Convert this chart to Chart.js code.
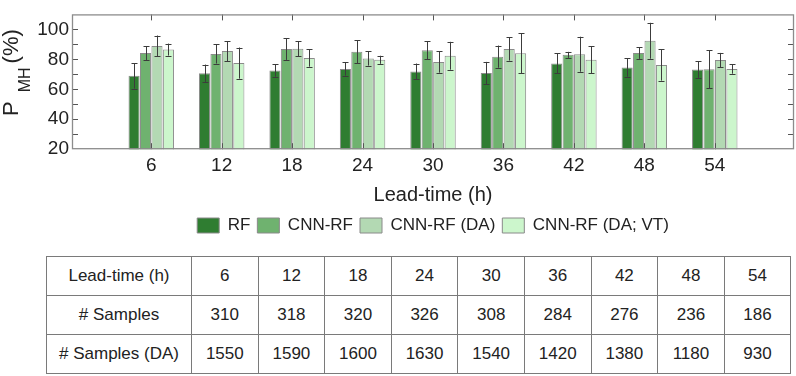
<!DOCTYPE html>
<html>
<head>
<meta charset="utf-8">
<script src="https://cdn.jsdelivr.net/npm/chart.js@4/dist/chart.umd.min.js"></script>
<style>
  html, body { margin: 0; padding: 0; background: #fff; }
  #wrap { position: relative; width: 796px; height: 376px; overflow: hidden; }
  #chartBox { position: absolute; left: 0; top: 0; width: 796px; height: 246px; }
  table { position: absolute; left: 46px; top: 256px; border-collapse: collapse; table-layout: fixed;
          font-family: "Liberation Sans", Arial, sans-serif; font-size: 17px; color: #222; }
  td { border: 1px solid #7a7a7a; height: 38px; padding: 0; text-align: center; vertical-align: middle; }
  td.head { width: 144px; }
  td.num { width: 65.6px; }
</style>
</head>
<body>
<div id="wrap">
  <div id="chartBox"><canvas id="c"></canvas></div>
  <table id="tbl"></table>
</div>
<script>
// ---- data ----
const leadTimes = [6, 12, 18, 24, 30, 36, 42, 48, 54];
const seriesNames = ['RF', 'CNN-RF', 'CNN-RF (DA)', 'CNN-RF (DA; VT)'];
const rfMean  = [69.0, 70.7, 72.6, 73.6, 71.9, 70.9, 77.3, 74.6, 73.2];
const rfErr   = [8.5, 5.8, 4.2, 4.5, 5.3, 7.4, 6.7, 6.2, 5.6];
const cnnMean = [84.2, 83.6, 86.9, 85.0, 86.1, 81.8, 83.0, 84.2, 73.4];
const cnnErr  = [4.7, 6.4, 7.3, 7.7, 6.1, 7.4, 2.0, 3.9, 12.7];
const daMean  = [88.9, 85.5, 87.1, 80.6, 78.3, 86.9, 83.4, 92.4, 79.5];
const daErr   = [7.0, 6.7, 4.9, 4.8, 7.2, 7.7, 11.7, 12.0, 4.8];
const vtMean  = [86.5, 77.5, 80.9, 79.7, 82.4, 84.0, 79.7, 76.2, 73.6];
const vtErr   = [4.0, 10.4, 5.8, 2.7, 9.3, 13.3, 9.0, 10.4, 3.2];
const yTickLabels = [20, 40, 60, 80, 100];
const yTickMarks  = [30, 40, 50, 60, 70, 80, 90, 100];
const tableHeader = 'Lead-time (h)';
const samplesLabel = '# Samples';
const samplesDALabel = '# Samples (DA)';
const samples   = [310, 318, 320, 326, 308, 284, 276, 236, 186];
const samplesDA = [1550, 1590, 1600, 1630, 1540, 1420, 1380, 1180, 930];

// ---- table ----
(function buildTable() {
  const rows = [[tableHeader, leadTimes], [samplesLabel, samples], [samplesDALabel, samplesDA]];
  const tbl = document.getElementById('tbl');
  rows.forEach(([label, vals]) => {
    const tr = document.createElement('tr');
    const th = document.createElement('td'); th.className = 'head'; th.textContent = label; tr.appendChild(th);
    vals.forEach(v => { const td = document.createElement('td'); td.className = 'num'; td.textContent = v; tr.appendChild(td); });
    tbl.appendChild(tr);
  });
})();

// ---- chart ----
const FONT = '"Liberation Sans", Arial, sans-serif';
Chart.defaults.font.family = FONT;
Chart.defaults.color = '#222';

const colors = ['#2f7d31', '#6fb26f', '#b3d9b3', '#ccf6cc'];
const means = [rfMean, cnnMean, daMean, vtMean];
const errs = [rfErr, cnnErr, daErr, vtErr];

const datasets = seriesNames.map((name, k) => ({
  label: name,
  data: leadTimes.map((x, i) => ({ x: x, y: means[k][i] })),
  errors: errs[k],
  backgroundColor: colors[k],
  borderColor: '#8a8a8a',
  borderWidth: 1,
  categoryPercentage: 0.65,
  barPercentage: 0.97
}));

const decor = {
  id: 'decor',
  afterDatasetsDraw(chart) {
    const { ctx, chartArea, scales } = chart;
    const { left, right, top, bottom } = chartArea;
    const x = scales.x, y = scales.y;
    ctx.save();
    // error bars
    ctx.strokeStyle = '#3c3c3c';
    ctx.lineWidth = 1;
    chart.data.datasets.forEach((ds, di) => {
      const meta = chart.getDatasetMeta(di);
      meta.data.forEach((el, i) => {
        const v = ds.data[i].y, e = ds.errors[i];
        const yt = y.getPixelForValue(v + e), yb = y.getPixelForValue(v - e);
        const cx = Math.round(el.x) + 0.5;
        ctx.beginPath();
        ctx.moveTo(cx, yt); ctx.lineTo(cx, yb);
        ctx.moveTo(cx - 3, Math.round(yt) + 0.5); ctx.lineTo(cx + 3, Math.round(yt) + 0.5);
        ctx.moveTo(cx - 3, Math.round(yb) + 0.5); ctx.lineTo(cx + 3, Math.round(yb) + 0.5);
        ctx.stroke();
      });
    });
    // ticks
    ctx.strokeStyle = '#555';
    ctx.lineWidth = 1;
    ctx.beginPath();
    yTickMarks.forEach(v => {
      const py = Math.round(y.getPixelForValue(v)) + 0.5;
      ctx.moveTo(left, py); ctx.lineTo(left + 6, py);
      ctx.moveTo(right, py); ctx.lineTo(right - 6, py);
    });
    leadTimes.forEach(v => {
      const px = Math.round(x.getPixelForValue(v)) + 0.5;
      ctx.moveTo(px, bottom); ctx.lineTo(px, bottom - 6);
      ctx.moveTo(px, top); ctx.lineTo(px, top + 6);
    });
    ctx.stroke();
    // frame
    ctx.strokeStyle = '#8c8c8c';
    ctx.lineWidth = 1.3;
    ctx.strokeRect(left + 0.5, top + 0.5, right - left - 1, bottom - top - 1);
    ctx.restore();
  },
  afterDraw(chart) {
    // y-axis title: P with subscript MH, then (%)
    const ctx = chart.ctx;
    ctx.save();
    ctx.fillStyle = '#222';
    ctx.translate(18, 116);
    ctx.rotate(-Math.PI / 2);
    ctx.textBaseline = 'alphabetic';
    ctx.textAlign = 'left';
    ctx.font = '22px ' + FONT;
    ctx.fillText('P', 0, 0);
    const pw = ctx.measureText('P').width;
    ctx.font = '16px ' + FONT;
    ctx.fillText('MH', pw + 9, 12);
    const mw = ctx.measureText('MH').width;
    ctx.font = '22px ' + FONT;
    ctx.fillText('(%)', pw + 9 + mw + 4, 0);
    ctx.restore();
  }
};

new Chart(document.getElementById('c'), {
  type: 'bar',
  data: { datasets: datasets },
  plugins: [decor],
  options: {
    responsive: true,
    maintainAspectRatio: false,
    animation: false,
    layout: { padding: { top: 2, right: 2, left: 0, bottom: 2 } },
    plugins: {
      tooltip: { enabled: false },
      legend: {
        position: 'bottom',
        fullSize: false,
        labels: { boxWidth: 22, boxHeight: 15, padding: 7, color: '#222', font: { size: 17 } }
      }
    },
    scales: {
      x: {
        type: 'linear',
        min: -0.75,
        max: 60.75,
        offset: false,
        grid: { display: false, drawTicks: false },
        border: { display: false },
        afterBuildTicks: (s) => { s.ticks = leadTimes.map(v => ({ value: v })); },
        ticks: { autoSkip: false, maxRotation: 0, padding: 5, color: '#222', font: { size: 19 },
                 callback: (v) => String(v) },
        title: { display: true, text: 'Lead-time (h)', color: '#222', font: { size: 20 }, padding: { top: 1, bottom: 3 } }
      },
      y: {
        min: 20,
        max: 110,
        grid: { display: false, drawTicks: false },
        border: { display: false },
        afterBuildTicks: (s) => { s.ticks = yTickLabels.map(v => ({ value: v })); },
        afterFit: (s) => { s.width = 72; },
        ticks: { padding: 3, color: '#222', font: { size: 19 } }
      }
    }
  }
});
</script>
</body>
</html>
